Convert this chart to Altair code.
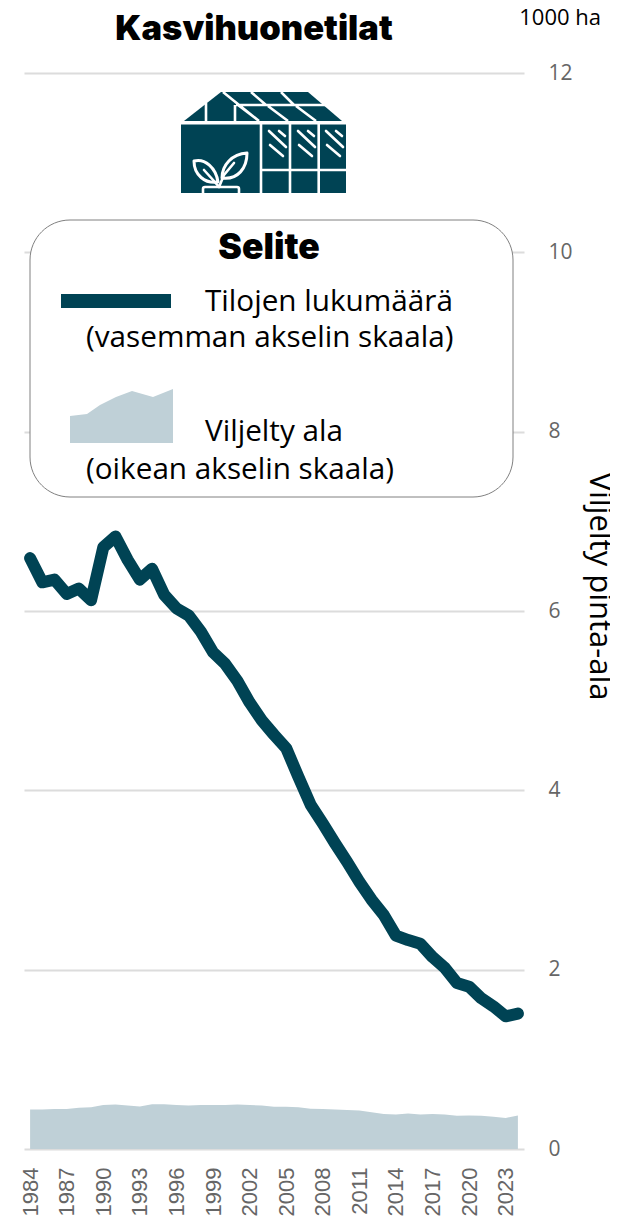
import urllib.parse
import altair as alt
import pandas as pd

years = list(range(1984, 2025))
farms = [6.59, 6.32, 6.35, 6.19, 6.25, 6.12, 6.71, 6.83, 6.57, 6.35, 6.47, 6.18, 6.03, 5.95, 5.77,
         5.54, 5.41, 5.22, 4.98, 4.78, 4.62, 4.47, 4.15, 3.84, 3.63, 3.41, 3.20, 2.98, 2.78, 2.61,
         2.38, 2.33, 2.29, 2.14, 2.02, 1.85, 1.81, 1.68, 1.59, 1.48, 1.51]
area = [.44, .44, .445, .445, .46, .465, .49, .495, .485, .475, .50, .50, .49, .485, .49, .49,
        .49, .495, .49, .485, .47, .47, .465, .45, .445, .44, .435, .43, .41, .39, .385, .395,
        .385, .39, .385, .37, .375, .37, .36, .345, .375]
x_tick_years = [str(y) for y in range(1984, 2024, 3)]
y_ticks = [0, 2, 4, 6, 8, 10, 12]

title_text = "Kasvihuonetilat"
unit_text = "1000 ha"
legend_title = "Selite"
legend_1 = "Tilojen lukumäärä"
legend_1b = "(vasemman akselin skaala)"
legend_2 = "Viljelty ala"
legend_2b = "(oikean akselin skaala)"
y_title = "Viljelty pinta-ala"

TEAL = "#004354"
PALE = "#bfd0d7"
GREY = "#666666"
BODY = "Open Sans"
HEAD = "Inter"

OX, OY = 24, 73  # plot origin on the page
df = pd.DataFrame({"year": [str(y) for y in years], "farms": farms, "area": area})

x = alt.X("year:O", scale=alt.Scale(type="point", padding=0.5), title=None,
          axis=alt.Axis(values=x_tick_years, labelAngle=270, labelAlign="right", labelBaseline="middle",
                        labelFont="Liberation Sans", labelFontSize=22, labelColor=GREY, labelPadding=18,
                        ticks=False, domain=False, grid=False, labelOverlap=False))
y_scale = alt.Scale(domain=[0, 12], nice=False)

area_layer = alt.Chart(df).mark_area(color=PALE).encode(
    x=x,
    y=alt.Y("area:Q", scale=y_scale, title=y_title,
            axis=alt.Axis(orient="right", values=y_ticks, format="d", labelFont=BODY, labelFontSize=21,
                          labelColor=GREY, labelPadding=24, labelAlign="left", ticks=False, domain=False,
                          grid=True, gridColor="#dcdcdc", gridWidth=2,
                          titleFont=BODY, titleFontSize=31, titleFontWeight="normal", titleColor="#000000",
                          titleAngle=90, titleX=74, titleY=513, titleAlign="center", titleBaseline="middle")),
)
line_layer = alt.Chart(df).mark_line(color=TEAL, strokeWidth=12, strokeCap="round", strokeJoin="round").encode(
    x=alt.X("year:O", scale=alt.Scale(type="point", padding=0.5)),
    y=alt.Y("farms:Q", scale=y_scale),
)

one = alt.Data(values=[{}])


def label(text, px, py, size, font=BODY, weight="normal", align="left", color="#000000"):
    return alt.Chart(one).mark_text(font=font, fontSize=size, fontWeight=weight, align=align,
                                    baseline="middle", color=color).encode(
        x=alt.value(px - OX), y=alt.value(py - OY), text=alt.value(text))


def image(svg, cx, cy, w, h):
    url = "data:image/svg+xml," + urllib.parse.quote(svg)
    return alt.Chart(alt.Data(values=[{"u": url}])).mark_image(width=w, height=h).encode(
        x=alt.value(cx - OX), y=alt.value(cy - OY), url="u:N")


W = 'stroke="#fff" fill="none" stroke-width="2.6"'
W3 = 'stroke="#fff" fill="none" stroke-width="3"'
hatch = "".join(
    f'<path d="M{269+d} 131L{286+d} 147M{270+d} 145L{283+d} 156M{279+d} 131L{285+d} 136" {W} stroke-linecap="round"/>'
    for d in (0, 29, 57))
icon = f'''<svg xmlns="http://www.w3.org/2000/svg" width="165" height="101" viewBox="181 92 165 101">
<path d="M184 121L221 92H308L342 121Z" fill="{TEAL}"/>
<rect x="181" y="124.5" width="165" height="69" fill="{TEAL}"/>
<path d="M206 103V121M235 105V121M223 92L259 121M236 105H326M251 92L266 105M281 92L294 105M268 106L288 121M296 106L316 121M238 105L259 121" {W}/>
<path d="M261 124V193M290 124V193M318.7 124V193M261 170H346" {W}/>
{hatch}
<path d="M194 161C205 158 216 168 218 182C205 184 194 175 194 161ZM222 178C222 165 232 154 247 153C247 168 238 180 222 178Z" {W3} stroke-linejoin="round"/>
<path d="M204 170L214 181L219 187M234 163L224 175L219 187" {W} stroke-linecap="round"/>
<path d="M203 194V189Q203 187 205 187H237Q239 187 239 189V194" {W}/>
</svg>'''
swatch = f'''<svg xmlns="http://www.w3.org/2000/svg" width="103" height="54" viewBox="0 0 103 54">
<path d="M0 27L17 25L30 16L46 8L62 2L83 8L103 0V54H0Z" fill="{PALE}"/></svg>'''

box = alt.Chart(one).mark_rect(fill="#ffffff", stroke="#808080", strokeWidth=1, cornerRadius=40).encode(
    x=alt.value(30 - OX), x2=alt.value(513 - OX), y=alt.value(220 - OY), y2=alt.value(497 - OY))
swatch_line = alt.Chart(one).mark_rect(fill=TEAL).encode(
    x=alt.value(61 - OX), x2=alt.value(171 - OX), y=alt.value(294 - OY), y2=alt.value(308 - OY))

chart = alt.layer(
    area_layer, line_layer, box, swatch_line,
    image(icon, 263.5, 142.5, 165, 101),
    image(swatch, 121.5, 416, 103, 54),
    label(title_text, 254, 30, 34.5, HEAD, 900, "center"),
    label(unit_text, 601, 18, 22, BODY, "normal", "right"),
    label(legend_title, 269, 248, 35.5, HEAD, 900, "center"),
    label(legend_1, 205, 302, 29.7),
    label(legend_1b, 86, 338, 29.7),
    label(legend_2, 205, 432, 29.7),
    label(legend_2b, 86, 470, 29.7),
).properties(
    width=500, height=1076,
    autosize=alt.AutoSizeParams(type="none"),
    padding={"left": 16, "top": 65, "right": 86, "bottom": 68},
).configure_view(stroke=None)

chart.save("out.html", embed_options={"renderer": "svg", "actions": False})
